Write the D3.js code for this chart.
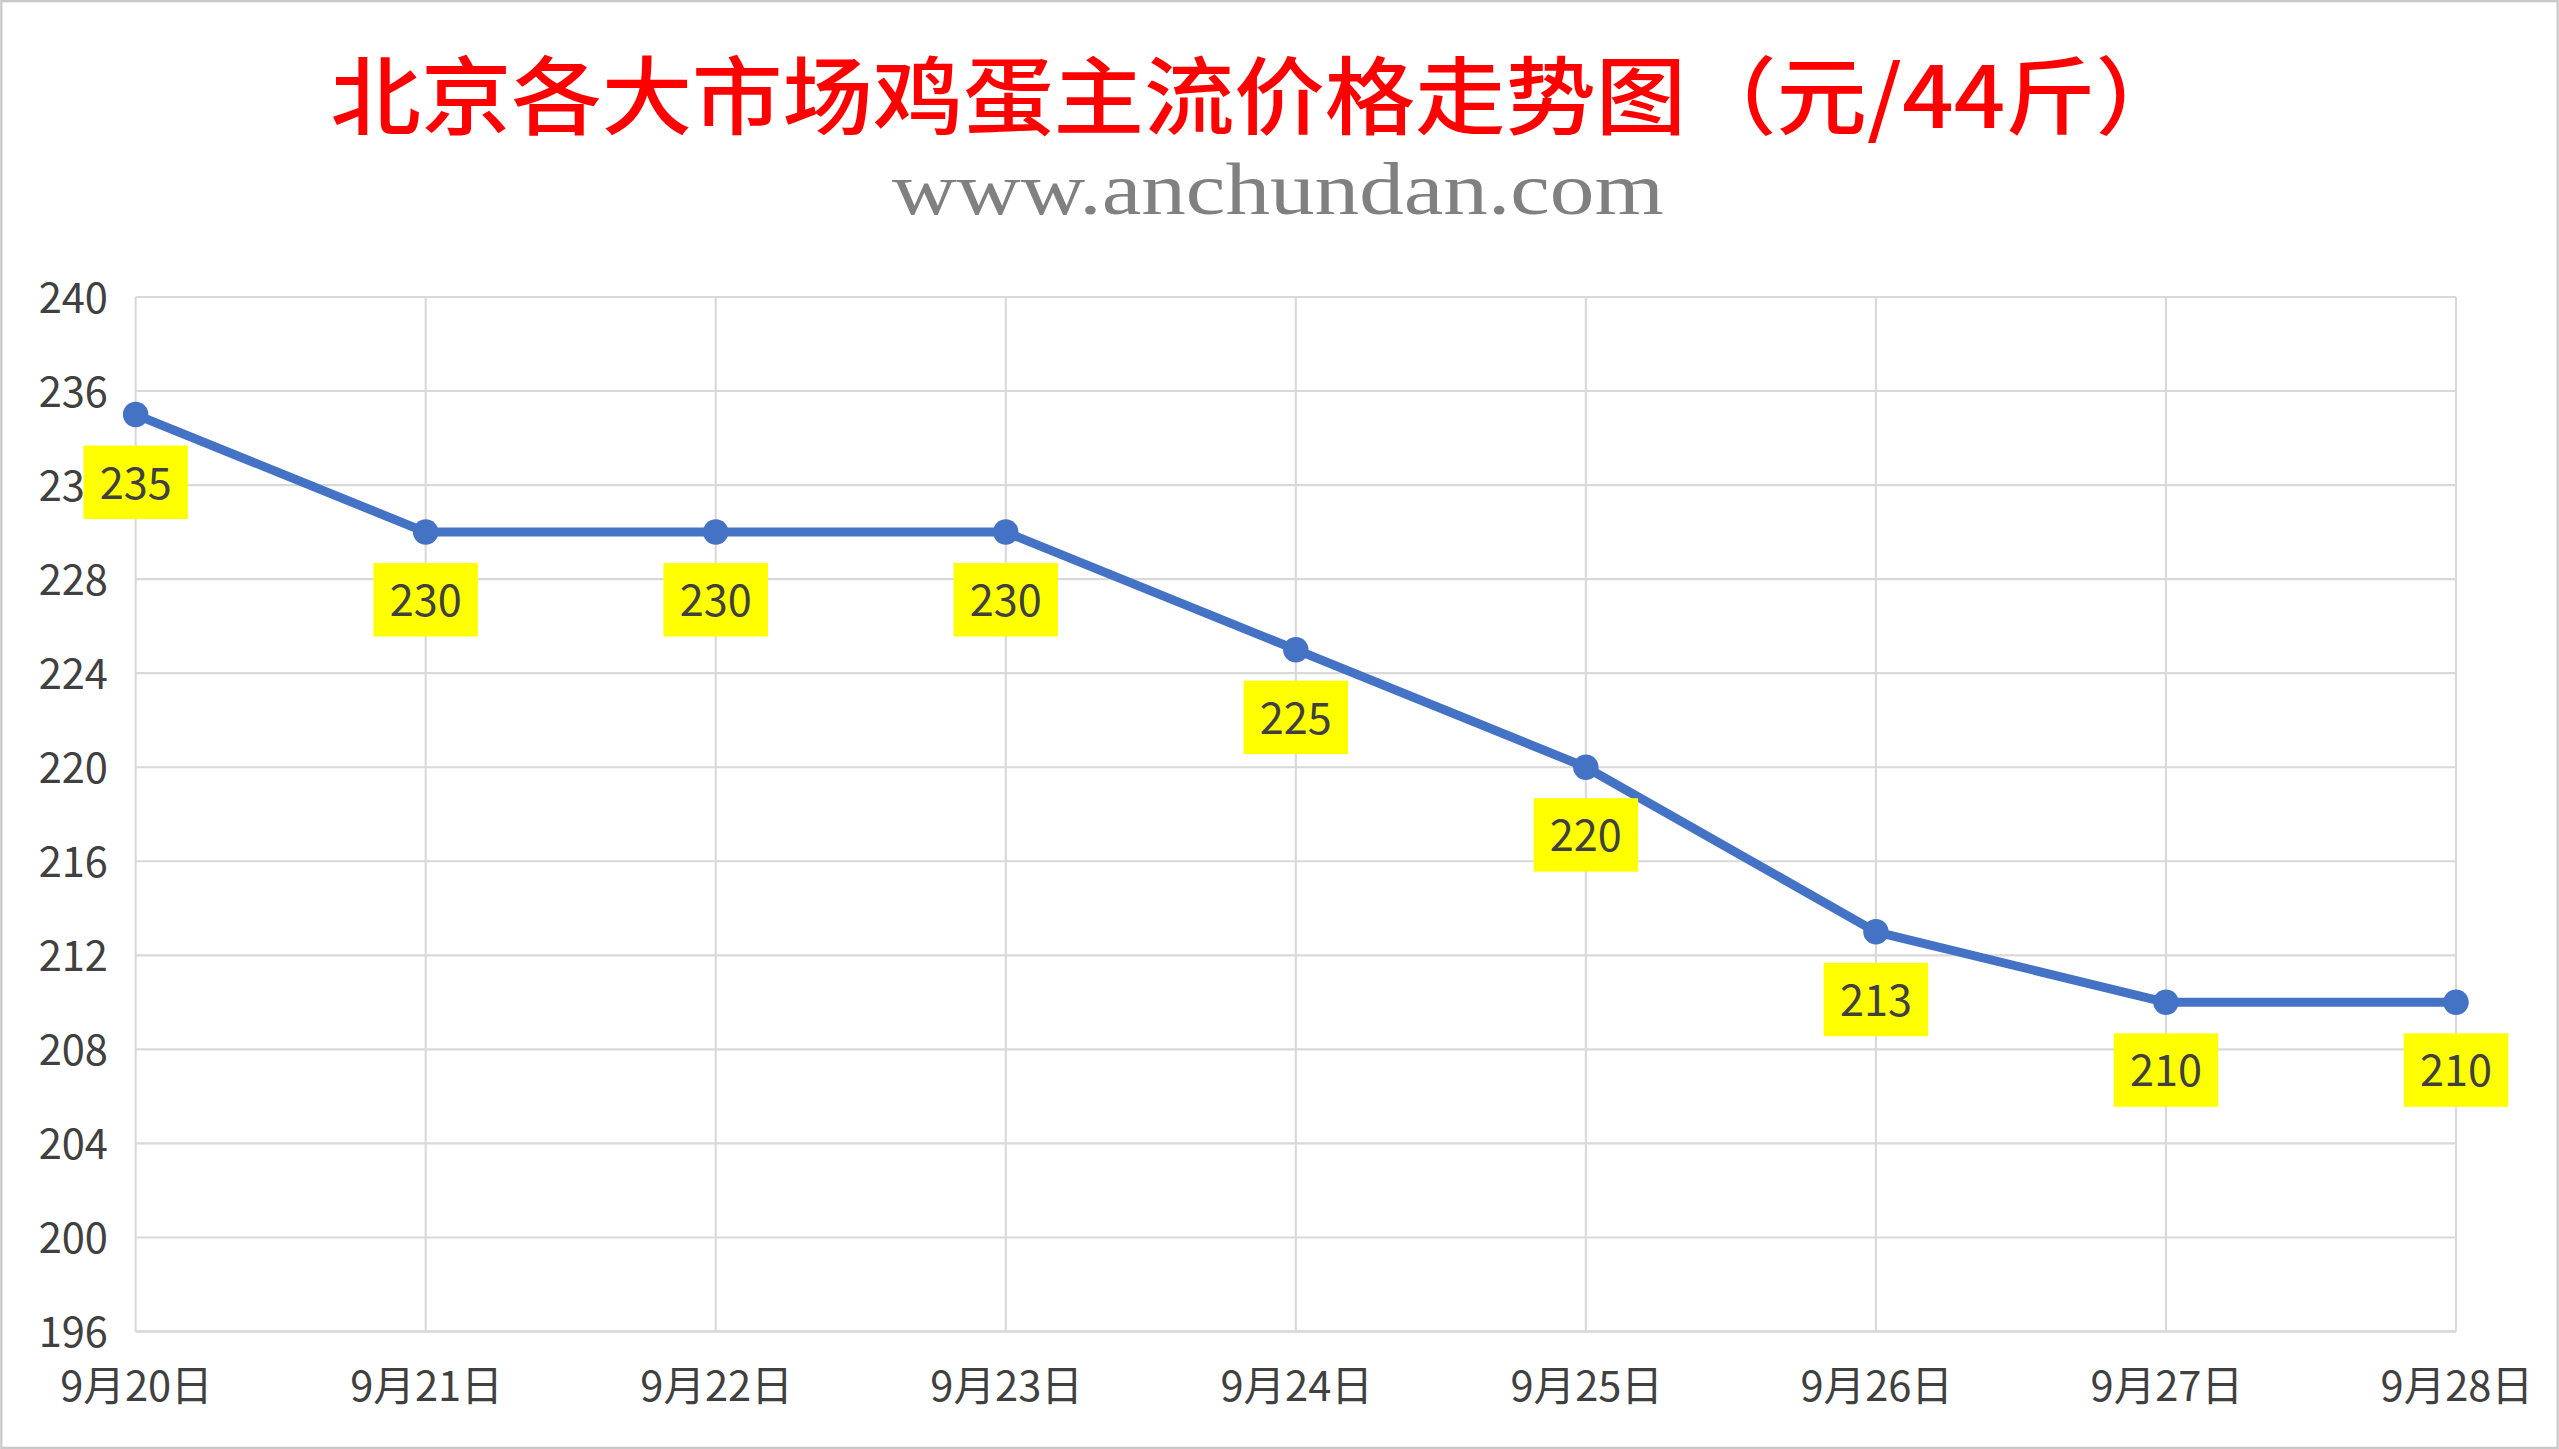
<!DOCTYPE html>
<html>
<head>
<meta charset="utf-8">
<script src="https://cdn.jsdelivr.net/npm/d3@7"></script>
<style>
  html, body { margin: 0; padding: 0; background: #fff; overflow: hidden; }
  svg { display: block; }
</style>
</head>
<body>
<div id="chart"></div>
<script>
'use strict';

// chart data
const dates = ['9月20日', '9月21日', '9月22日', '9月23日', '9月24日', '9月25日', '9月26日', '9月27日', '9月28日'];
const prices = [235, 230, 230, 230, 225, 220, 213, 210, 210];
const yTicks = [196, 200, 204, 208, 212, 216, 220, 224, 228, 232, 236, 240];

const titleText = '北京各大市场鸡蛋主流价格走势图（元/44斤）';
const subTitleText = 'www.anchundan.com';

// drawn in a 1568x888 box, scaled up to the window
let W = 1568, H = 888;
let margin = {left: 83, right: 63, top: 182, bottom: 72};

let svg = d3.select('#chart').append('svg')
    .attr('width', 2559).attr('height', 1449)
    .attr('viewBox', `0 0 ${W} ${H}`);

svg.append('rect')
    .attr('x', 0.7).attr('y', 0.7)
    .attr('width', W - 1.4).attr('height', H - 1.4)
    .attr('fill', '#fff').attr('stroke', '#c9c9c9').attr('stroke-width', 1.4);

let x = d3.scalePoint().domain(dates).range([margin.left, W - margin.right]);
let y = d3.scaleLinear().domain([196, 240]).range([H - margin.bottom, margin.top]);

// gridlines
let grid = svg.append('g').attr('stroke', '#d9d9d9').attr('stroke-width', 1.3);
grid.selectAll('.hgrid').data(yTicks).join('line')
    .attr('x1', margin.left).attr('x2', W - margin.right)
    .attr('y1', d => y(d)).attr('y2', d => y(d));
grid.selectAll('.vgrid').data(dates).join('line')
    .attr('x1', d => x(d)).attr('x2', d => x(d))
    .attr('y1', margin.top).attr('y2', H - margin.bottom);

// axes (labels only, lines come from grid)
let yAxis = svg.append('g')
    .attr('transform', `translate(${margin.left},0)`)
    .call(d3.axisLeft(y).tickValues(yTicks).tickSize(0).tickPadding(17));
let xAxis = svg.append('g')
    .attr('transform', `translate(0,${H - margin.bottom})`)
    .call(d3.axisBottom(x).tickSize(0).tickPadding(24));

[yAxis, xAxis].forEach(a => {
    a.select('.domain').remove();
    a.selectAll('text')
        .attr('fill', '#404040')
        .style('font-family', '"Noto Sans CJK SC", "Noto Sans", sans-serif')
        .style('font-size', '25.5px');
});
yAxis.selectAll('text').attr('dy', '0.36em');
xAxis.selectAll('text').attr('dy', '0.72em');

// bottom axis line
svg.append('line')
    .attr('x1', margin.left).attr('x2', W - margin.right)
    .attr('y1', y(196)).attr('y2', y(196))
    .attr('stroke', '#d9d9d9').attr('stroke-width', 1.6);

// price line
let line = d3.line()
    .x((d, i) => x(dates[i]))
    .y(d => y(d));

svg.append('path')
    .datum(prices)
    .attr('d', line)
    .attr('fill', 'none')
    .attr('stroke', '#4472C4')
    .attr('stroke-width', 5.5)
    .attr('stroke-linejoin', 'round');

svg.selectAll('.pt').data(prices).join('circle')
    .attr('cx', (d, i) => x(dates[i]))
    .attr('cy', d => y(d))
    .attr('r', 7.8)
    .attr('fill', '#4472C4');

// data labels in yellow boxes, under each point
let labels = svg.selectAll('.lbl').data(prices).join('g')
    .attr('transform', (d, i) => `translate(${x(dates[i])},${y(d)})`);
labels.append('rect')
    .attr('x', -32).attr('y', 19)
    .attr('width', 64).attr('height', 45)
    .attr('fill', '#ffff00');
labels.append('text')
    .attr('y', 42).attr('dy', '0.36em')
    .attr('text-anchor', 'middle')
    .attr('fill', '#404040')
    .style('font-family', '"Noto Sans CJK SC", "Noto Sans", sans-serif')
    .style('font-size', '26.5px')
    .text(d => d);

// titles
svg.append('text')
    .attr('x', 771).attr('y', 56)
    .attr('dominant-baseline', 'central')
    .attr('text-anchor', 'middle')
    .attr('fill', '#ff0000')
    .attr('textLength', 1137).attr('lengthAdjust', 'spacingAndGlyphs')
    .style('font-family', '"Noto Sans CJK SC", sans-serif')
    .style('font-size', '52px')
    .style('font-weight', 500)
    .text(titleText);

svg.append('text')
    .attr('x', 783).attr('y', 131)
    .attr('text-anchor', 'middle')
    .attr('fill', '#808080')
    .attr('textLength', 473).attr('lengthAdjust', 'spacingAndGlyphs')
    .style('font-family', '"Liberation Serif", "DejaVu Serif", serif')
    .style('font-size', '46px')
    .text(subTitleText);
</script>
</body>
</html>
